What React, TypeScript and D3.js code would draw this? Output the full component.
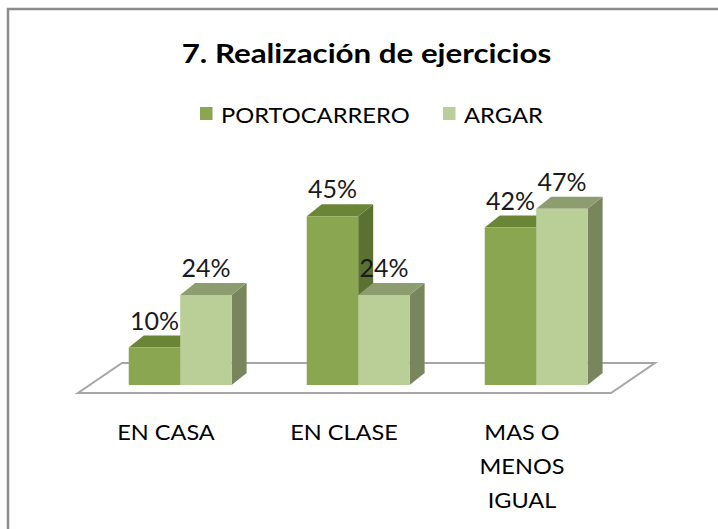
import React from "react";
import * as d3 from "d3";

const categories = ["EN CASA", "EN CLASE", "MAS O MENOS IGUAL"];
const categoryLines = [["EN CASA"], ["EN CLASE"], ["MAS O", "MENOS", "IGUAL"]];
const seriesNames = ["PORTOCARRERO", "ARGAR"];
const portocarrero = [10, 45, 42];
const argar = [24, 24, 47];
const title = "7. Realización de ejercicios";

const W = 718;
const H = 529;
const FONT = "Lato, 'Open Sans', sans-serif";

const faceColors = [
  { front: "#8aa650", top: "#6b8537", side: "#5b7131" },
  { front: "#bacf97", top: "#8e9d6f", side: "#78855d" },
];

function SText({ x, y, sx, children, ...rest }: any) {
  return (
    <g transform={`translate(${x},${y}) scale(${sx},1)`}>
      <text x={0} y={0} {...rest}>
        {children}
      </text>
    </g>
  );
}

export default function App() {
  const values = [portocarrero, argar];
  const x0 = d3.scaleBand<string>().domain(categories).range([91, 625]).padding(0);
  const bw = x0.bandwidth();
  const x1 = d3
    .scaleBand<string>()
    .domain(seriesNames)
    .range([bw * 0.212, bw * 0.79])
    .padding(0);
  const y = d3.scaleLinear().domain([0, 50]).range([385, 197.5]);
  const dx = 15;
  const dy = 12;
  const [r0, r1] = x0.range();
  const floorFrontY = 393;
  const floorBackY = 363;
  const floor = [
    [r0 - 13, floorFrontY],
    [r1 - 14, floorFrontY],
    [r1 + 30, floorBackY],
    [r0 + 31, floorBackY],
  ];

  const bars: any[] = [];
  categories.forEach((c, ci) => {
    seriesNames.forEach((s, si) => {
      bars.push({ c, s, si, v: values[si][ci] });
    });
  });

  return (
    <svg
      width={W}
      height={H}
      style={{ position: "absolute", left: 0, top: 0, background: "#fff" }}
    >
      <rect x={0} y={0} width={W} height={H} fill="#fff" />
      <rect x={8} y={9} width={W + 20} height={H + 20} fill="none" stroke="#8c8c8c" strokeWidth={2.5} />
      <SText
        x={366.5}
        y={63}
        sx={1.16}
        textAnchor="middle"
        fontFamily={FONT}
        fontWeight="bold"
        fontSize={27}
        fill="#000"
      >
        {title}
      </SText>
      {/* legend */}
      {seriesNames.map((s, i) => {
        const lx = i === 0 ? 200 : 443;
        return (
          <g key={s}>
            <rect x={lx} y={107} width={12.5} height={13} fill={faceColors[i].front} />
            <SText x={lx + 21} y={123} sx={1.13} fontFamily={FONT} fontSize={21} fill="#000">
              {s}
            </SText>
          </g>
        );
      })}
      {/* floor */}
      <polygon
        points={floor.map((p) => p.join(",")).join(" ")}
        fill="#fff"
        stroke="#a6a6a6"
        strokeWidth={2}
      />
      {/* bars */}
      {bars.map((b) => {
        const xl = (x0(b.c) as number) + (x1(b.s) as number);
        const xr = xl + x1.bandwidth();
        const yt = y(b.v);
        const yb = y(0);
        const col = faceColors[b.si];
        return (
          <g key={b.c + b.s}>
            <polygon
              points={`${xr},${yt} ${xr + dx},${yt - dy} ${xr + dx},${yb - dy} ${xr},${yb}`}
              fill={col.side}
            />
            <polygon
              points={`${xl},${yt} ${xr},${yt} ${xr + dx},${yt - dy} ${xl + dx},${yt - dy}`}
              fill={col.top}
            />
            <rect x={xl} y={yt} width={xr - xl} height={yb - yt} fill={col.front} />
          </g>
        );
      })}
      {/* data labels */}
      {bars.map((b) => {
        const xl = (x0(b.c) as number) + (x1(b.s) as number);
        return (
          <text
            key={"l" + b.c + b.s}
            x={xl + x1.bandwidth() / 2}
            y={y(b.v) - dy - 6}
            textAnchor="middle"
            fontFamily={FONT}
            fontSize={25}
            fill="#1a1a1a"
          >
            {b.v + "%"}
          </text>
        );
      })}
      {/* category labels */}
      {categories.map((c, ci) =>
        categoryLines[ci].map((ln, li) => (
          <SText
            key={c + li}
            x={(x0(c) as number) + bw / 2 - 14}
            y={440 + li * 34}
            sx={1.12}
            textAnchor="middle"
            fontFamily={FONT}
            fontSize={21}
            fill="#000"
          >
            {ln}
          </SText>
        ))
      )}
    </svg>
  );
}
